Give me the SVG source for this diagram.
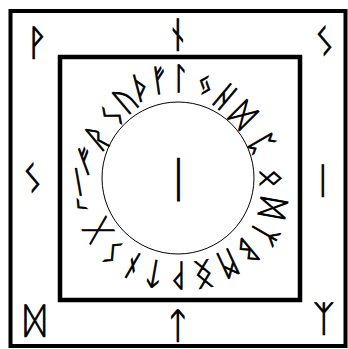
<svg xmlns="http://www.w3.org/2000/svg" width="348" height="349" viewBox="0 0 348 349">
<style>
.frame{fill:none;stroke:#000}
.r{font-family:"DejaVu Sans","Noto Sans","Noto Sans CJK SC","Liberation Sans",sans-serif;font-size:31px;text-anchor:middle;dominant-baseline:central;fill:#000;stroke:#000;stroke-width:0.9}
.c{font-size:36px}
.m{font-size:48px}
</style>
<rect width="348" height="349" fill="#fff"/>
<g id="frame">
<rect class="frame" x="10.5" y="11" width="335" height="335" stroke-width="4"/>
<rect class="frame" x="60" y="57" width="240" height="243" stroke-width="4.5"/>
<circle class="frame" cx="178" cy="178" r="76" stroke-width="1"/>
</g>
<g id="corners">
<text class="r c" x="37" y="42">ᚹ</text>
<text class="r c" x="178" y="34">ᚾ</text>
<text class="r c" x="325" y="41">ᛊ</text>
<text class="r c" x="33" y="178">ᛊ</text>
<text class="r c" x="323" y="180">ᛁ</text>
<text class="r c" x="35" y="320">ᛞ</text>
<text class="r c" x="178" y="325">ᛏ</text>
<text class="r c" x="324" y="318">ᛉ</text>
<text class="r m" x="178" y="179">ᛁ</text>
</g>
<g id="ring">
<text class="r" transform="translate(80,205.5) rotate(-45)">ᚲ</text>
<text class="r" transform="translate(78,182) rotate(-10)">ᛁ</text>
<text class="r" transform="translate(86,160.6) rotate(-20)">ᚠ</text>
<text class="r" transform="translate(97.2,137) rotate(-40)">ᚱ</text>
<text class="r" transform="translate(112.5,115.6) rotate(-50)">ᛊ</text>
<text class="r" transform="translate(125.5,99.7) rotate(-40)">ᚢ</text>
<text class="r" transform="translate(141.8,87) rotate(-15)">ᚦ</text>
<text class="r" transform="translate(159.4,80) rotate(-8)">ᚠ</text>
<text class="r" transform="translate(180,78) rotate(0)">ᛚ</text>
<text class="r" transform="translate(205.8,84) rotate(20)">ᛃ</text>
<text class="r" transform="translate(225.5,96.3) rotate(40)">ᚺ</text>
<text class="r" transform="translate(243.2,114.8) rotate(45)">ᛞ</text>
<text class="r" transform="translate(262,143.8) rotate(60)">ᛈ</text>
<text class="r" transform="translate(272,178) rotate(90)">ᛟ</text>
<text class="r" transform="translate(273,208) rotate(100)">ᛞ</text>
<text class="r" transform="translate(264.6,233.7) rotate(120)">ᛉ</text>
<text class="r" transform="translate(248.2,251.2) rotate(140)">ᛒ</text>
<text class="r" transform="translate(227.6,263.6) rotate(155)">ᛗ</text>
<text class="r" transform="translate(203.8,274) rotate(170)">ᛝ</text>
<text class="r" transform="translate(178,276) rotate(180)">ᚹ</text>
<text class="r" transform="translate(154.2,274) rotate(190)">ᛏ</text>
<text class="r" transform="translate(132,266) rotate(210)">ᚾ</text>
<text class="r" transform="translate(112.7,252.5) rotate(225)">ᛊ</text>
<text class="r" transform="translate(97.3,230) rotate(240)">ᚷ</text>
</g>
</svg>
